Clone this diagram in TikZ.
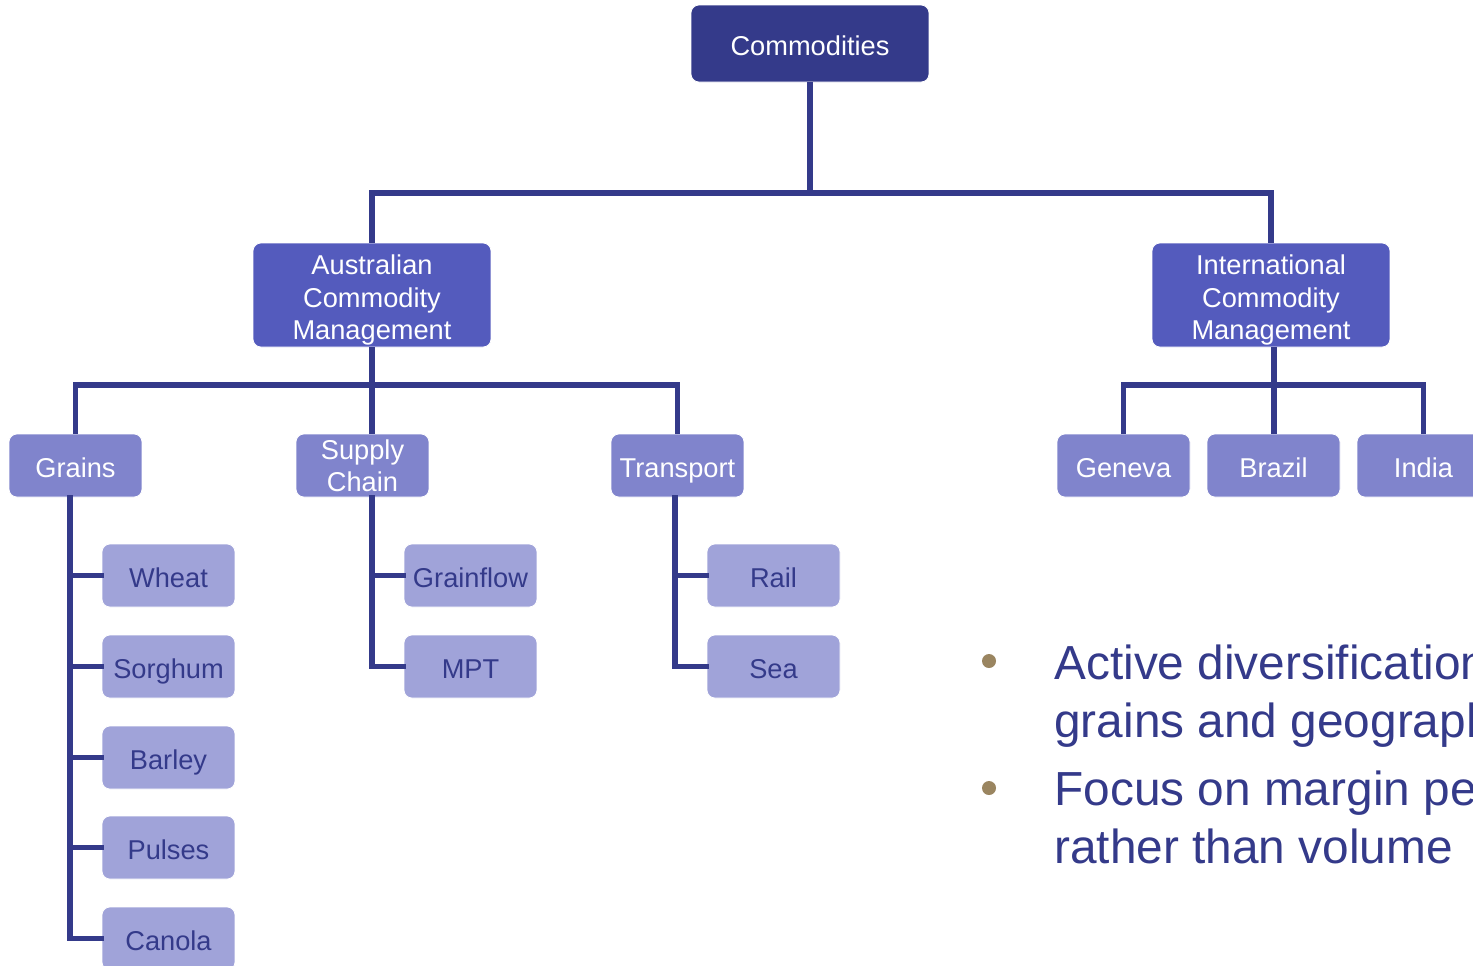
\documentclass[tikz,border=0pt]{standalone}
\usepackage{fontspec}
\setmainfont{Liberation Sans}
\usepackage{tikz}
\definecolor{navy}{HTML}{343A8A}
\definecolor{midblue}{HTML}{545BBD}
\definecolor{lightblue}{HTML}{8084CC}
\definecolor{paleblue}{HTML}{A0A3D9}
\definecolor{bulletbrown}{HTML}{9A8560}

\begin{document}
\begin{tikzpicture}[x=0.02cm, y=-0.02cm,
    box/.style={rectangle, rounded corners=0.16cm, draw=white, line width=0.4pt, align=center, inner sep=0pt,
        font=\fontsize{15.5}{18.5}\selectfont},
    oneline/.style={text height=15.5pt, text depth=2.1pt},
    twoline/.style={text depth=0pt},
    threeline/.style={text height=51pt, text depth=0pt},
    root/.style={box, oneline, fill=navy, text=white, minimum width=4.76cm, minimum height=1.54cm},
    branch/.style={box, threeline, fill=midblue, text=white, minimum width=4.76cm, minimum height=2.08cm},
    group/.style={box, fill=lightblue, text=white, minimum width=2.66cm, minimum height=1.26cm},
    leaf/.style={box, oneline, fill=paleblue, text=navy, minimum width=2.66cm, minimum height=1.26cm},
    point/.style={anchor=base west, align=left, inner sep=0pt, text=navy, font=\fontsize{27.2}{32.5}\selectfont},
    link/.style={draw=navy, line width=2.9pt}]
    \clip (0,0) rectangle (1473,965);
    \fill[white] (0,0) rectangle (1473,965);

    % Root
    \node[root] (COMM) at (810,43.5) {Commodities};

    % Divisions
    \node[branch] (AUS) at (372,295) {Australian\\Commodity\\Management};
    \node[branch] (INTL) at (1271,295) {International\\Commodity\\Management};

    % Australian groups
    \node[group, oneline] (GRAINS) at (75.5,465.5) {Grains};
    \node[group, twoline] (SUPPLY) at (362.5,465.5) {Supply\\Chain};
    \node[group, oneline] (TRANSPORT) at (677.5,465.5) {Transport};

    % International offices
    \node[group, oneline] (GENEVA) at (1123.5,465.5) {Geneva};
    \node[group, oneline] (BRAZIL) at (1273.5,465.5) {Brazil};
    \node[group, oneline] (INDIA) at (1423.5,465.5) {India};

    % Grains
    \node[leaf] (WHEAT) at (168.5,575.5) {Wheat};
    \node[leaf] (SORGHUM) at (168.5,666.5) {Sorghum};
    \node[leaf] (BARLEY) at (168.5,757.5) {Barley};
    \node[leaf] (PULSES) at (168.5,847.5) {Pulses};
    \node[leaf] (CANOLA) at (168.5,938.5) {Canola};

    % Supply chain
    \node[leaf] (GRAINFLOW) at (470.5,575.5) {Grainflow};
    \node[leaf] (MPT) at (470.5,666.5) {MPT};

    % Transport
    \node[leaf] (RAIL) at (773.5,575.5) {Rail};
    \node[leaf] (SEA) at (773.5,666.5) {Sea};

    % Connections
    \coordinate (TOPBAR) at (810,193);
    \coordinate (AUSBAR) at (372,385);
    \coordinate (INTLBAR) at (1274,385);
    \draw[link] (COMM.south) -- (TOPBAR) -| (AUS.north);
    \draw[link] (TOPBAR) -| (INTL.north);
    \draw[link] (AUS.south) -- (AUSBAR) -| (GRAINS.north);
    \draw[link] (AUSBAR) -| (TRANSPORT.north);
    \draw[link] (AUSBAR) -- (SUPPLY.north -| AUSBAR);
    \draw[link] (INTL.south -| INTLBAR) -- (BRAZIL.north -| INTLBAR);
    \draw[link] (INTLBAR) -| (GENEVA.north);
    \draw[link] (INTLBAR) -| (INDIA.north);
    \foreach \leafnode in {WHEAT,SORGHUM,BARLEY,PULSES,CANOLA}
        \draw[link, line cap=rect] ([xshift=-0.11cm]GRAINS.south) |- (\leafnode.west);
    \foreach \leafnode in {GRAINFLOW,MPT}
        \draw[link, line cap=rect] ([xshift=0.19cm]SUPPLY.south) |- (\leafnode.west);
    \foreach \leafnode in {RAIL,SEA}
        \draw[link, line cap=rect] ([xshift=-0.05cm]TRANSPORT.south) |- (\leafnode.west);

    % Bullets
    \fill[bulletbrown] (989,661) circle (0.14cm);
    \fill[bulletbrown] (989,788) circle (0.14cm);
    \node[point] (POINTA) at (1054,737) {Active diversification\\grains and geographies};
    \node[point] (POINTB) at (1054,863) {Focus on margin per\\rather than volume};
\end{tikzpicture}
\end{document}
